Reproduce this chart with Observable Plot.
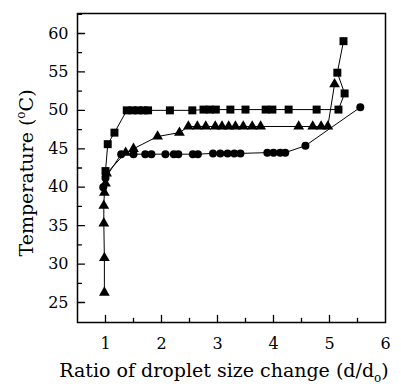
<!DOCTYPE html>
<html>
<head>
<meta charset="utf-8">
<script src="https://cdn.jsdelivr.net/npm/d3@7"></script>
<script src="https://cdn.jsdelivr.net/npm/@observablehq/plot@0.6"></script>
<style>
  html, body { margin: 0; padding: 0; background: #fff; }
</style>
</head>
<body>
<div id="chart"></div>
<script>
// Series: square markers (x = d/d0, y = temperature °C), in measurement order
const squareX = [1.00, 1.04, 1.16, 1.38, 1.48, 1.58, 1.68, 1.76, 2.15, 2.55, 2.75, 2.86, 2.97, 3.23, 3.50, 3.86, 3.98, 4.27, 4.77, 5.16, 5.27, 5.14, 5.25];
const squareY = [42.1, 45.6, 47.1, 50.0, 50.0, 50.0, 50.0, 50.0, 50.0, 50.0, 50.1, 50.1, 50.1, 50.1, 50.1, 50.1, 50.1, 50.1, 50.1, 50.1, 52.2, 54.9, 59.0];

// Series: triangle markers
const triX = [0.98, 0.98, 0.97, 0.97, 0.98, 1.00, 1.02, 1.36, 1.50, 1.93, 2.32, 2.48, 2.64, 2.79, 2.96, 3.08, 3.20, 3.32, 3.46, 3.62, 3.77, 4.45, 4.70, 4.85, 4.97, 5.09];
const triY = [26.3, 30.8, 35.3, 37.6, 39.3, 40.5, 41.8, 44.5, 45.0, 46.6, 47.1, 47.9, 47.9, 47.9, 47.9, 47.9, 47.9, 47.9, 47.9, 47.9, 47.9, 47.9, 47.9, 47.9, 47.9, 53.4];

// Series: circle markers
const circX = [0.96, 1.00, 1.28, 1.50, 1.71, 1.82, 2.07, 2.22, 2.30, 2.56, 2.65, 2.92, 3.05, 3.18, 3.30, 3.41, 3.89, 4.00, 4.12, 4.21, 4.57, 5.55];
const circY = [40.0, 41.2, 44.3, 44.3, 44.3, 44.3, 44.3, 44.3, 44.3, 44.3, 44.3, 44.4, 44.4, 44.4, 44.4, 44.4, 44.5, 44.5, 44.5, 44.5, 45.4, 50.4];

// Axes
const xDomain = [0.5, 6];
const yDomain = [22.4, 62.6];
const xMajor = [1, 2, 3, 4, 5];
const xMinor = [1.5, 2.5, 3.5, 4.5, 5.5];
const yMajor = [25, 30, 35, 40, 45, 50, 55, 60];
const yMinor = [27.5, 32.5, 37.5, 42.5, 47.5, 52.5, 57.5, 62.5];
const xLabels = [1, 2, 3, 4, 5, 6];
const xTitle = "Ratio of droplet size change (d/d";
const xTitleSub = "o";
const yTitle = "Temperature (";
const yTitleSup = "o";
const yTitleEnd = "C)";

const toRows = (xs, ys) => xs.map((x, i) => ({x, y: ys[i]}));
const squares = toRows(squareX, squareY);
const triangles = toRows(triX, triY);
const circles = toRows(circX, circY);

const FONT = "DejaVu Serif";

// straight tick shape for vectors (from anchor point along the vector direction)
const tickShape = {draw(context, l) { context.moveTo(0, 0); context.lineTo(0, -l); }};

const plot = Plot.plot({
  width: 401,
  height: 386,
  marginLeft: 77,
  marginRight: 16,
  marginTop: 13,
  marginBottom: 64,
  style: {fontFamily: FONT, fontSize: "16px", color: "black", background: "white"},
  x: {domain: xDomain},
  y: {domain: yDomain},
  marks: [
    // inward ticks along bottom and left spines
    Plot.vector(xMajor, {x: d => d, y: () => yDomain[0], length: 7, rotate: 0, anchor: "start", shape: tickShape, stroke: "black", strokeWidth: 1.3}),
    Plot.vector(xMinor, {x: d => d, y: () => yDomain[0], length: 4, rotate: 0, anchor: "start", shape: tickShape, stroke: "black", strokeWidth: 1.3}),
    Plot.vector(yMajor, {x: () => xDomain[0], y: d => d, length: 7, rotate: 90, anchor: "start", shape: tickShape, stroke: "black", strokeWidth: 1.3}),
    Plot.vector(yMinor, {x: () => xDomain[0], y: d => d, length: 4, rotate: 90, anchor: "start", shape: tickShape, stroke: "black", strokeWidth: 1.3}),
    // tick labels
    Plot.axisX({ticks: xLabels, tickSize: 0, tickPadding: 15, label: null, tickFormat: d => String(d)}),
    Plot.axisY({ticks: yMajor, tickSize: 0, tickPadding: 9, label: null, tickFormat: d => String(d)}),
    Plot.frame({stroke: "black", strokeWidth: 1.5}),
    // lines
    Plot.line(squares, {x: "x", y: "y", stroke: "black", strokeWidth: 1}),
    Plot.line(triangles, {x: "x", y: "y", stroke: "black", strokeWidth: 1}),
    Plot.line(circles, {x: "x", y: "y", stroke: "black", strokeWidth: 1}),
    // markers
    Plot.dot(squares, {x: "x", y: "y", symbol: "square", r: 4.5, fill: "black", stroke: "none"}),
    Plot.dot(triangles, {x: "x", y: "y", symbol: "triangle", r: 4, fill: "black", stroke: "none"}),
    Plot.dot(circles, {x: "x", y: "y", symbol: "circle", r: 4, fill: "black", stroke: "none"})
  ]
});

// Axis titles with sub/superscripts
const svg = d3.select(plot);
const xt = svg.append("text")
  .attr("x", 224).attr("y", 377)
  .attr("text-anchor", "middle")
  .attr("font-family", FONT).attr("font-size", 19).attr("fill", "black");
xt.append("tspan").text(xTitle);
xt.append("tspan").attr("font-size", 12).attr("dy", 5).text(xTitleSub);
xt.append("tspan").attr("dy", -5).text(")");

const yt = svg.append("text")
  .attr("transform", "translate(33,173) rotate(-90)")
  .attr("text-anchor", "middle")
  .attr("font-family", FONT).attr("font-size", 19).attr("fill", "black");
yt.append("tspan").text(yTitle);
yt.append("tspan").attr("font-size", 12).attr("dy", -8).text(yTitleSup);
yt.append("tspan").attr("dy", 8).text(yTitleEnd);

document.getElementById("chart").appendChild(plot);
</script>
</body>
</html>
